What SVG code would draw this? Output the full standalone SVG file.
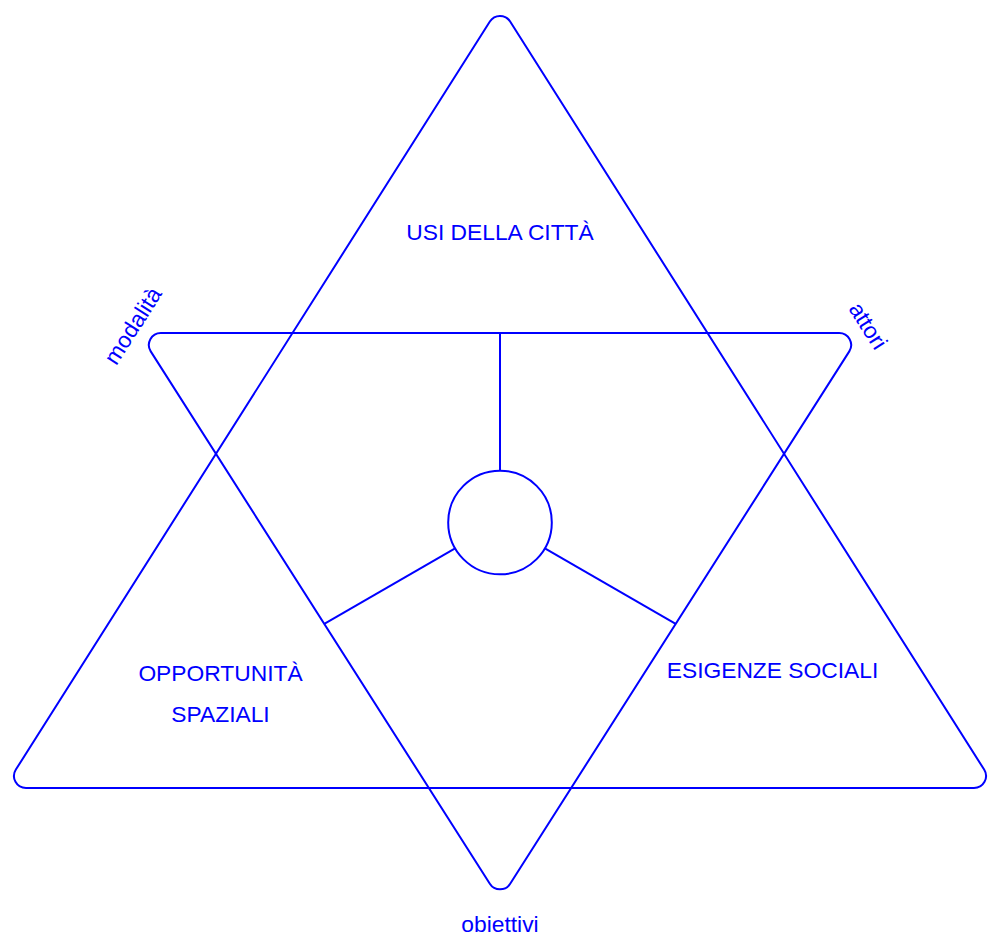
<svg xmlns="http://www.w3.org/2000/svg" width="989" height="938" viewBox="0 0 989 938">
<style>
.ln{fill:none;stroke:#0000ff;stroke-width:2;stroke-linecap:butt}
.t{fill:#0000ff;font-family:"Liberation Sans",Arial,sans-serif;font-size:22.8px;text-anchor:middle}
</style>
<rect width="989" height="938" fill="#ffffff"/>
<g id="triangle-up">
<path class="ln" d="M489.86 21.5 A12 12 0 0 1 510.14 21.5 L984.13 769.58 A12 12 0 0 1 973.99 788 L26.01 788 A12 12 0 0 1 15.87 769.58 Z"/>
</g>
<g id="triangle-down">
<path class="ln" d="M160.81 333 L839.19 333 A12 12 0 0 1 849.28 351.39 L510.17 883.73 A12 12 0 0 1 489.83 883.73 L150.72 351.39 A12 12 0 0 1 160.81 333 Z"/>
</g>
<g id="connectors">
<line class="ln" x1="500" y1="333" x2="500" y2="470.7"/>
<line class="ln" x1="455.1" y1="548.4" x2="324.3" y2="623.9"/>
<line class="ln" x1="544.9" y1="548.4" x2="675.7" y2="623.9"/>
</g>
<g id="center">
<circle class="ln" cx="500" cy="522.5" r="51.8"/>
</g>
<g id="usi">
<text class="t" x="500" y="239.5">USI DELLA CITTÀ</text>
</g>
<g id="opportunita">
<text class="t" x="220.5" y="681">OPPORTUNITÀ</text>
<text class="t" x="220.5" y="721.5">SPAZIALI</text>
</g>
<g id="esigenze">
<text class="t" x="772.5" y="678">ESIGENZE SOCIALI</text>
</g>
<g id="modalita">
<text class="t" transform="translate(139.5 330) rotate(-57.5)">modalità</text>
</g>
<g id="attori">
<text class="t" transform="translate(861.5 330) rotate(57.5)">attori</text>
</g>
<g id="obiettivi">
<text class="t" x="500" y="932">obiettivi</text>
</g>
</svg>
